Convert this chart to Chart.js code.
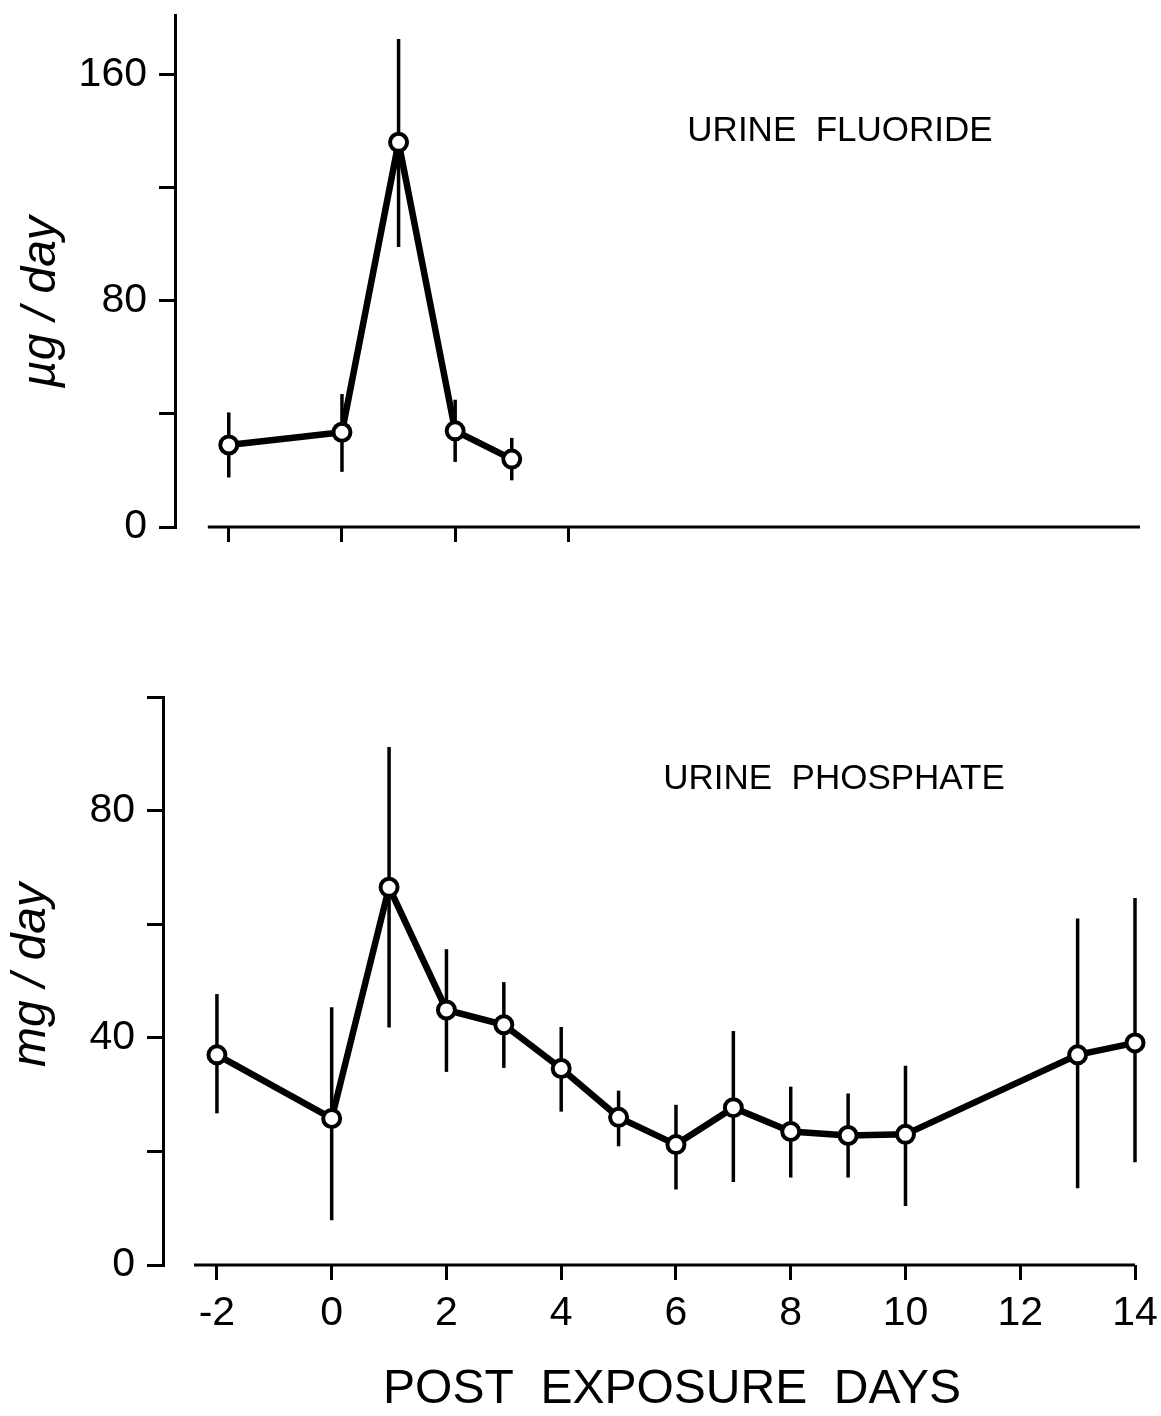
<!DOCTYPE html>
<html>
<head>
<meta charset="utf-8">
<script src="https://cdn.jsdelivr.net/npm/chart.js@4.4.1/dist/chart.umd.min.js"></script>
<style>
    html, body { margin: 0; padding: 0; background: #fff; }
    #page { position: relative; width: 1161px; height: 1416px; }
    .panel { position: absolute; left: 0; width: 1161px; }
</style>
</head>
<body>
<div id="page">
    <div class="panel" style="top:0;height:600px"><canvas id="fluorideChart"></canvas></div>
    <div class="panel" style="top:600px;height:816px"><canvas id="phosphateChart"></canvas></div>
</div>
<script>
// urine fluoride, ug/day
const fluorideDays = [-2, 0, 1, 2, 3];
const fluorideMean = [29, 33.5, 136, 34, 24];
const fluorideLow = [17.5, 19.5, 99, 23, 16.5];
const fluorideHigh = [40.5, 47, 172.5, 45, 31.5];

// urine phosphate, mg/day
const phosphateDays = [-2, 0, 1, 2, 3, 4, 5, 6, 7, 8, 9, 10, 13, 14];
const phosphateMean = [37, 25.8, 66.5, 44.9, 42.3, 34.6, 26, 21.2, 27.7, 23.5, 22.8, 23, 37, 39.1];
const phosphateLow = [26.7, 7.9, 41.8, 34, 34.7, 27, 20.9, 13.3, 14.6, 15.4, 15.4, 10.4, 13.5, 18.1];
const phosphateHigh = [47.7, 45.4, 91.2, 55.6, 49.8, 41.9, 30.7, 28.2, 41.2, 31.4, 30.2, 35.1, 61, 64.6];

// ticks
const fluorideXTicks = [-2, 0, 2, 4];
const fluorideYTicks = [0, 40, 80, 120, 160];
const fluorideYLabels = ['0', '', '80', '', '160'];
const phosphateXTicks = [-2, 0, 2, 4, 6, 8, 10, 12, 14];
const phosphateXLabels = ['-2', '0', '2', '4', '6', '8', '10', '12', '14'];
const phosphateYTicks = [0, 20, 40, 60, 80, 100];
const phosphateYLabels = ['0', '', '40', '', '80', ''];

const FONT = '"Liberation Sans", Arial, Helvetica, sans-serif';

// vertical error bars, drawn under the line and points
const errorBars = {
    id: 'errorBars',
    beforeDatasetsDraw(chart, args, opts) {
        const xs = chart.scales.x, ys = chart.scales.y;
        const ctx = chart.ctx;
        ctx.save();
        ctx.strokeStyle = '#000';
        ctx.lineWidth = 3.5;
        opts.x.forEach((d, i) => {
            const px = xs.getPixelForValue(d);
            ctx.beginPath();
            ctx.moveTo(px, ys.getPixelForValue(opts.low[i]));
            ctx.lineTo(px, ys.getPixelForValue(opts.high[i]));
            ctx.stroke();
        });
        ctx.restore();
    }
};

// x axis line that starts a little right of the y axis
const baseLine = {
    id: 'baseLine',
    afterDraw(chart, args, opts) {
        const xs = chart.scales.x, ys = chart.scales.y;
        const ctx = chart.ctx;
        const y = ys.getPixelForValue(0);
        ctx.save();
        ctx.strokeStyle = '#000';
        ctx.lineWidth = 3;
        ctx.beginPath();
        ctx.moveTo(xs.getPixelForValue(opts.from), y);
        ctx.lineTo(xs.getPixelForValue(opts.to), y);
        ctx.stroke();
        ctx.restore();
    }
};

// free text: panel names and axis titles
const panelText = {
    id: 'panelText',
    afterDraw(chart, args, opts) {
        const ctx = chart.ctx;
        opts.items.forEach(t => {
            ctx.save();
            ctx.font = t.font;
            ctx.fillStyle = '#000';
            ctx.textAlign = 'center';
            ctx.textBaseline = 'middle';
            ctx.translate(t.x, t.y);
            if (t.rotate) ctx.rotate(t.rotate);
            ctx.fillText(t.text, 0, 0);
            ctx.restore();
        });
    }
};

function makeChart(id, cfg) {
    const ctx = document.getElementById(id).getContext('2d');
    return new Chart(ctx, {
        type: 'line',
        data: {
            datasets: [{
                data: cfg.days.map((d, i) => ({ x: d, y: cfg.mean[i] })),
                borderColor: '#000',
                borderWidth: 6.5,
                pointRadius: 8.5,
                pointBorderWidth: 4,
                pointBackgroundColor: '#fff',
                pointBorderColor: '#000',
                tension: 0,
                clip: false
            }]
        },
        options: {
            responsive: true,
            maintainAspectRatio: false,
            animation: false,
            layout: { padding: cfg.padding },
            plugins: {
                legend: { display: false },
                tooltip: { enabled: false },
                errorBars: { x: cfg.days, low: cfg.low, high: cfg.high },
                baseLine: { from: cfg.lineFrom, to: cfg.xMax },
                panelText: { items: cfg.texts }
            },
            scales: {
                x: {
                    type: 'linear',
                    min: cfg.xMin,
                    max: cfg.xMax,
                    afterBuildTicks: s => { s.ticks = cfg.xTicks.map(v => ({ value: v })); },
                    afterFit: s => { s.height = cfg.xHeight; s.paddingLeft = 0; s.paddingRight = 0; },
                    border: { display: false },
                    grid: { drawOnChartArea: false, drawTicks: true, tickLength: 15, lineWidth: 3, color: '#000' },
                    ticks: {
                        autoSkip: false,
                        maxRotation: 0,
                        padding: 9,
                        color: '#000',
                        font: { family: FONT, size: 41 },
                        callback: (v, i) => cfg.xLabels ? cfg.xLabels[i] : ''
                    }
                },
                y: {
                    min: 0,
                    max: cfg.yMax,
                    afterBuildTicks: s => { s.ticks = cfg.yTicks.map(v => ({ value: v })); },
                    afterFit: s => { s.width = cfg.yWidth; s.paddingTop = 0; s.paddingBottom = 0; },
                    border: { display: true, width: 3, color: '#000' },
                    grid: { drawOnChartArea: false, drawTicks: true, tickLength: 16, lineWidth: 3, color: '#000' },
                    ticks: {
                        padding: 12,
                        color: '#000',
                        font: { family: FONT, size: 41 },
                        callback: (v, i) => cfg.yLabels[i]
                    }
                }
            }
        },
        plugins: [errorBars, baseLine, panelText]
    });
}

makeChart('fluorideChart', {
    days: fluorideDays, mean: fluorideMean, low: fluorideLow, high: fluorideHigh,
    xMin: -2.95, xMax: 14.1, lineFrom: -2.37,
    yMax: 181,
    xTicks: fluorideXTicks, xLabels: null,
    yTicks: fluorideYTicks, yLabels: fluorideYLabels,
    padding: { top: 15, right: 21, left: 0, bottom: 0 },
    yWidth: 175, xHeight: 73,
    texts: [
        { text: 'URINE  FLUORIDE', x: 840, y: 131, font: '35px ' + FONT },
        { text: 'µg / day', x: 42, y: 302, rotate: -Math.PI / 2, font: 'italic 48px ' + FONT }
    ]
});

makeChart('phosphateChart', {
    days: phosphateDays, mean: phosphateMean, low: phosphateLow, high: phosphateHigh,
    xMin: -2.94, xMax: 14, lineFrom: -2.4,
    yMax: 100,
    xTicks: phosphateXTicks, xLabels: phosphateXLabels,
    yTicks: phosphateYTicks, yLabels: phosphateYLabels,
    padding: { top: 97, right: 26, left: 0, bottom: 0 },
    yWidth: 163, xHeight: 151,
    texts: [
        { text: 'URINE  PHOSPHATE', x: 834, y: 779, font: '35px ' + FONT, dy: 0 },
        { text: 'mg / day', x: 32, y: 975, rotate: -Math.PI / 2, font: 'italic 48px ' + FONT },
        { text: 'POST  EXPOSURE  DAYS', x: 672, y: 1390, font: '48px ' + FONT }
    ].map(t => Object.assign({}, t, { y: t.y - 600 }))
});
</script>
</body>
</html>
